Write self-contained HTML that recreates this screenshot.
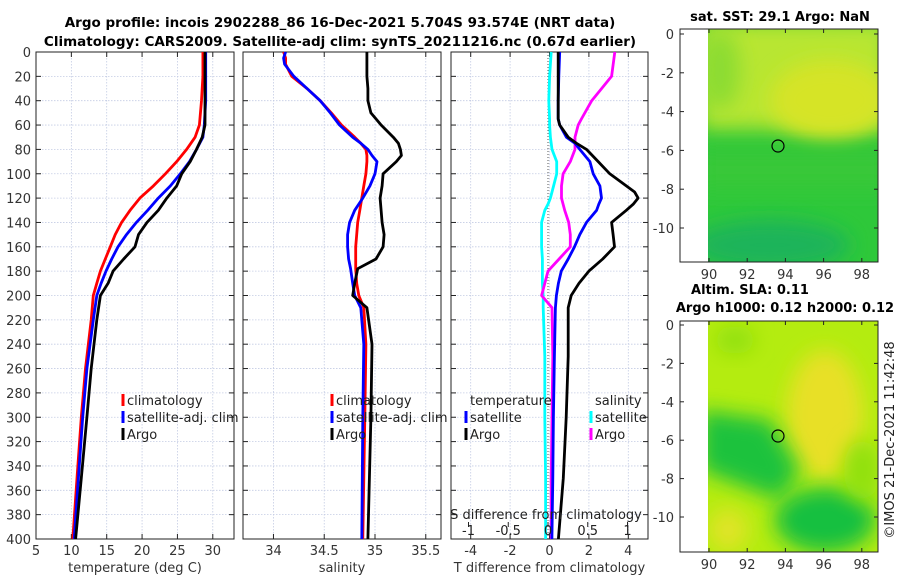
<!DOCTYPE html>
<html><head><meta charset="utf-8"><style>
html,body{margin:0;padding:0;background:#fff;}
svg{display:block;font-family:"DejaVu Sans","Liberation Sans",sans-serif;}
</style></head><body>
<svg id="fig" width="900" height="580" viewBox="0 0 900 580">
<defs>
<filter id="blur8" x="-50%" y="-50%" width="200%" height="200%"><feGaussianBlur stdDeviation="10"/></filter>
<filter id="blur4" x="-50%" y="-50%" width="200%" height="200%"><feGaussianBlur stdDeviation="5"/></filter>
<clipPath id="clipTop"><rect x="708" y="29" width="170" height="233"/></clipPath>
<clipPath id="clipBot"><rect x="708" y="321" width="170" height="231"/></clipPath>
</defs>
<text x="340" y="27" text-anchor="middle" font-size="13.5" font-weight="bold">Argo profile: incois 2902288_86 16-Dec-2021 5.704S 93.574E (NRT data)</text>
<text x="340" y="46" text-anchor="middle" font-size="13.5" font-weight="bold">Climatology: CARS2009. Satellite-adj clim: synTS_20211216.nc (0.67d earlier)</text>

<g>
<text x="780" y="21" text-anchor="middle" font-size="13" font-weight="bold">sat. SST: 29.1 Argo: NaN</text>
<g clip-path="url(#clipTop)">
<rect x="708" y="29" width="170" height="233" fill="#2ec83a"/>
<rect x="700" y="20" width="190" height="110" fill="#b8e630" filter="url(#blur8)"/>
<ellipse cx="830" cy="100" rx="60" ry="40" fill="#d6e428" filter="url(#blur8)"/>
<ellipse cx="720" cy="70" rx="20" ry="40" fill="#8cdc30" filter="url(#blur8)"/>
<rect x="700" y="150" width="190" height="40" fill="#38c838" filter="url(#blur8)"/>
<ellipse cx="770" cy="245" rx="80" ry="25" fill="#1ab45a" filter="url(#blur8)"/>
</g>
<rect x="680" y="29" width="198" height="233" fill="none" stroke="#222" stroke-width="1"/>
<circle cx="778" cy="146" r="6" fill="none" stroke="#000" stroke-width="1.2"/>
<g id="topMapTicks"></g>
</g>

<g>
<text x="750" y="294" text-anchor="middle" font-size="13" font-weight="bold">Altim. SLA: 0.11</text>
<text x="785" y="312" text-anchor="middle" font-size="13" font-weight="bold">Argo h1000: 0.12 h2000: 0.12</text>
<g clip-path="url(#clipBot)">
<rect x="708" y="321" width="170" height="231" fill="#b4ec10"/>
<ellipse cx="825" cy="415" rx="38" ry="65" fill="#e8e028" filter="url(#blur8)"/>
<path d="M700 410 L770 420 L800 470 L780 500 L700 470 Z" fill="#1cc23c" filter="url(#blur8)"/>
<ellipse cx="825" cy="520" rx="50" ry="32" fill="#18c040" filter="url(#blur8)"/>
<ellipse cx="728" cy="530" rx="20" ry="22" fill="#e0e428" filter="url(#blur8)"/>
<ellipse cx="862" cy="470" rx="18" ry="30" fill="#90e010" filter="url(#blur8)"/>
<ellipse cx="735" cy="340" rx="20" ry="14" fill="#90e010" filter="url(#blur8)"/>
</g>
<rect x="680" y="321" width="198" height="231" fill="none" stroke="#222" stroke-width="1"/>
<circle cx="778" cy="436" r="6" fill="none" stroke="#000" stroke-width="1.2"/>
<g id="botMapTicks"></g>
</g>
<text transform="translate(894,440) rotate(-90)" text-anchor="middle" font-size="13" fill="#222">©IMOS 21-Dec-2021 11:42:48</text>

<g id="panels"></g>
</svg>
<script>
const depthTicks = [0,20,40,60,80,100,120,140,160,180,200,220,240,260,280,300,320,340,360,380,400];
const tDepth = [0,20,40,60,70,80,90,100,110,120,130,140,150,160,170,180,190,200,220,260,300,350,400];
const tClim  = [28.6,28.6,28.4,28.1,27.5,26.3,24.9,23.3,21.6,19.7,18.3,17.1,16.2,15.5,14.8,14.1,13.6,13.1,12.8,12.0,11.4,10.8,10.2];
const tSat   = [29.0,29.0,29.0,28.8,28.6,27.7,26.7,25.4,24.0,22.3,20.8,19.2,17.8,16.6,15.7,14.9,14.2,13.6,13.1,12.2,11.6,11.0,10.4];
const tArgo  = [28.9,28.9,28.9,28.9,28.5,27.7,26.8,25.6,24.9,23.5,22.3,20.7,19.5,19.0,17.4,15.9,15.2,14.1,13.6,12.8,12.2,11.4,10.6];
const tTicks = [5,10,15,20,25,30];
const sDepth = [0,5,10,20,30,40,50,60,70,75,80,85,90,100,110,120,130,140,150,160,170,178,190,200,210,240,300,400];
const sClim  = [34.10,34.12,34.12,34.18,34.33,34.46,34.57,34.67,34.80,34.86,34.91,34.92,34.92,34.91,34.89,34.87,34.85,34.83,34.82,34.81,34.81,34.81,34.82,34.84,34.89,34.91,34.90,34.88];
const sSat   = [34.12,34.10,34.11,34.20,34.33,34.46,34.56,34.65,34.78,34.86,34.93,34.97,35.02,35.00,34.95,34.88,34.80,34.75,34.73,34.73,34.74,34.76,34.78,34.80,34.86,34.89,34.88,34.87];
const sArgo  = [34.92,34.92,34.92,34.92,34.93,34.93,34.96,35.06,35.18,35.23,35.25,35.26,35.21,35.08,35.07,35.05,35.06,35.07,35.09,35.08,35.01,34.83,34.80,34.78,34.92,34.97,34.96,34.93];
const sTicks = [34,34.5,35,35.5];
const dDepth = [0,20,40,55,60,70,75,80,90,100,110,115,120,125,130,140,150,160,170,180,190,200,210,250,300,350,400];
const dTSat  = [0.52,0.47,0.44,0.44,0.52,0.86,1.29,1.54,2.05,2.22,2.56,2.60,2.64,2.50,2.39,1.88,1.54,1.27,0.95,0.60,0.45,0.35,0.30,0.25,0.20,0.17,0.12];
const dTArgo = [0.44,0.44,0.44,0.44,0.52,0.95,1.37,1.88,2.47,3.06,3.90,4.32,4.50,4.25,3.90,3.15,3.23,3.30,2.70,2.00,1.50,1.10,0.95,0.95,0.85,0.70,0.45];
const dSSat  = [0.04,0.02,0.01,0.02,0.02,0.03,0.04,0.05,0.11,0.11,0.07,0.05,0.03,0.00,-0.04,-0.08,-0.08,-0.08,-0.07,-0.07,-0.07,-0.06,-0.06,-0.04,-0.04,-0.03,-0.03];
const dSArgo = [0.84,0.80,0.55,0.42,0.38,0.34,0.34,0.34,0.28,0.19,0.17,0.17,0.17,0.19,0.21,0.26,0.28,0.28,0.14,0.00,-0.04,-0.08,0.05,0.06,0.05,0.04,0.04];
const dTTicks = [-4,-2,0,2,4];
const dSTicks = [-1,-0.5,0,0.5,1];
const dSTickLabels = ["-1","-0.5","0","0.5","1"];
const lonTicks = [90,92,94,96,98];
const latTicks = [0,-2,-4,-6,-8,-10];

const NS = "http://www.w3.org/2000/svg";
const root = document.getElementById('panels');
function mk(tag, attrs, parent){const e=document.createElementNS(NS,tag);for(const k in attrs)e.setAttribute(k,attrs[k]);(parent||root).appendChild(e);return e;}
const Y0=52, Y1=539;
function yD(d){return Y0+(d/400)*(Y1-Y0);}

function panel(name,x0,x1,xmin,xmax,ticks,labels,xlabel,showY){
  const g=mk('g',{});
  
  
  const xs=v=>x0+(v-xmin)/(xmax-xmin)*(x1-x0);
  depthTicks.forEach(d=>{
    const l=mk('line',{x1:x0,x2:x1,y1:yD(d),y2:yD(d),stroke:'#c4cce4','stroke-width':0.8,'stroke-dasharray':'1.5,1.5'},g);
    
    
    mk('line',{x1:x0,x2:x0+5,y1:yD(d),y2:yD(d),stroke:'#222'},g);
    mk('line',{x1:x1-5,x2:x1,y1:yD(d),y2:yD(d),stroke:'#222'},g);
    if(showY){const t=mk('text',{x:x0-5,y:yD(d)+5,'text-anchor':'end','font-size':13,fill:'#333'},g);t.textContent=d;
      
      }
  });
  ticks.forEach((v,i)=>{
    mk('line',{x1:xs(v),x2:xs(v),y1:Y0,y2:Y1,stroke:'#c4cce4','stroke-width':0.8,'stroke-dasharray':'1.5,1.5'},g);
    mk('line',{x1:xs(v),x2:xs(v),y1:Y1-5,y2:Y1,stroke:'#222'},g);
    mk('line',{x1:xs(v),x2:xs(v),y1:Y0,y2:Y0+5,stroke:'#222'},g);
    const t=mk('text',{x:xs(v),y:Y1+16,'text-anchor':'middle','font-size':13,fill:'#333'},g);t.textContent=labels[i];
    
    
  });
  mk('rect',{x:x0,y:Y0,width:x1-x0,height:Y1-Y0,fill:'none',stroke:'#222','stroke-width':1},g);
  const xl=mk('text',{x:(x0+x1)/2,y:572,'text-anchor':'middle','font-size':13,fill:'#333'},g);xl.textContent=xlabel;
  
  
  return {g,xs};
}
function line(p,depths,vals,color,name,xs){
  const pts=depths.map((d,i)=>xs(vals[i]).toFixed(1)+','+yD(d).toFixed(1)).join(' ');
  const e=mk('polyline',{points:pts,fill:'none',stroke:color,'stroke-width':2.8,'stroke-linejoin':'round'},p.g);
  
  
}
function legend(g,x,y,color,label){
  mk('line',{x1:x,x2:x,y1:y-11,y2:y+1,stroke:color,'stroke-width':3},g);
  const t=mk('text',{x:x+4,y:y,'font-size':13,fill:'#222'},g);t.textContent=label;
  
  
}

const p1=panel('temperature-panel',36,234,5,33,tTicks,tTicks.map(String),'temperature (deg C)',true);
line(p1,tDepth,tClim,'#ff0000','temp-climatology-line',p1.xs);
line(p1,tDepth,tSat,'#0000ff','temp-satellite-line',p1.xs);
line(p1,tDepth,tArgo,'#000000','temp-argo-line',p1.xs);
legend(p1.g,123,405,'#ff0000','climatology');
legend(p1.g,123,422,'#0000ff','satellite-adj. clim');
legend(p1.g,123,439,'#000000','Argo');

const p2=panel('salinity-panel',243,441,33.7,35.65,sTicks,sTicks.map(String),'salinity',false);
line(p2,sDepth,sClim,'#ff0000','sal-climatology-line',p2.xs);
line(p2,sDepth,sSat,'#0000ff','sal-satellite-line',p2.xs);
line(p2,sDepth,sArgo,'#000000','sal-argo-line',p2.xs);
legend(p2.g,332,405,'#ff0000','climatology');
legend(p2.g,332,422,'#0000ff','satellite-adj. clim');
legend(p2.g,332,439,'#000000','Argo');

const p3=panel('difference-panel',451,648,-5,5,dTTicks,dTTicks.map(String),'T difference from climatology',false);
const xsS=v=>548+v*79.5;
mk('line',{x1:548,x2:548,y1:Y0,y2:Y1,stroke:'#555','stroke-width':1,'stroke-dasharray':'1,2'},p3.g);
line(p3,dDepth,dSSat,'#00ffff','sdiff-satellite-line',xsS);
line(p3,dDepth,dSArgo,'#ff00ff','sdiff-argo-line',xsS);
line(p3,dDepth,dTSat,'#0000ff','tdiff-satellite-line',p3.xs);
line(p3,dDepth,dTArgo,'#000000','tdiff-argo-line',p3.xs);
const sl=mk('text',{x:546,y:519,'text-anchor':'middle','font-size':13,fill:'#222'},p3.g);sl.textContent='S difference from climatology';


dSTicks.forEach((v,i)=>{
  mk('line',{x1:xsS(v),x2:xsS(v),y1:522,y2:527,stroke:'#222'},p3.g);
  const t=mk('text',{x:xsS(v),y:535,'text-anchor':'middle','font-size':13,fill:'#222'},p3.g);t.textContent=dSTickLabels[i];
  
  
});
const th=mk('text',{x:470,y:405,'font-size':13,fill:'#222'},p3.g);th.textContent='temperature';


const sh=mk('text',{x:595,y:405,'font-size':13,fill:'#222'},p3.g);sh.textContent='salinity';


legend(p3.g,466,422,'#0000ff','satellite');
legend(p3.g,466,439,'#000000','Argo');
legend(p3.g,591,422,'#00ffff','satellite');
legend(p3.g,591,439,'#ff00ff','Argo');

function mapTicks(id,top,bot,y0px,pxPerDeg){
  const g=document.getElementById(id);
  const lx=v=>709+(v-90)*19.1;
  lonTicks.forEach(v=>{
    mk('line',{x1:lx(v),x2:lx(v),y1:bot-4,y2:bot,stroke:'#222'},g);
    mk('line',{x1:lx(v),x2:lx(v),y1:top,y2:top+4,stroke:'#222'},g);
    const t=mk('text',{x:lx(v),y:bot+17,'text-anchor':'middle','font-size':13,fill:'#333'},g);t.textContent=v;
    
    
  });
  latTicks.forEach(v=>{
    const y=y0px-v*pxPerDeg;
    mk('line',{x1:680,x2:684,y1:y,y2:y,stroke:'#222'},g);
    mk('line',{x1:874,x2:878,y1:y,y2:y,stroke:'#222'},g);
    const t=mk('text',{x:674,y:y+5,'text-anchor':'end','font-size':13,fill:'#333'},g);t.textContent=v;
    
    
  });
}
mapTicks('topMapTicks',29,262,34,19.4);
mapTicks('botMapTicks',321,552,325,19.2);
</script>
</body></html>
